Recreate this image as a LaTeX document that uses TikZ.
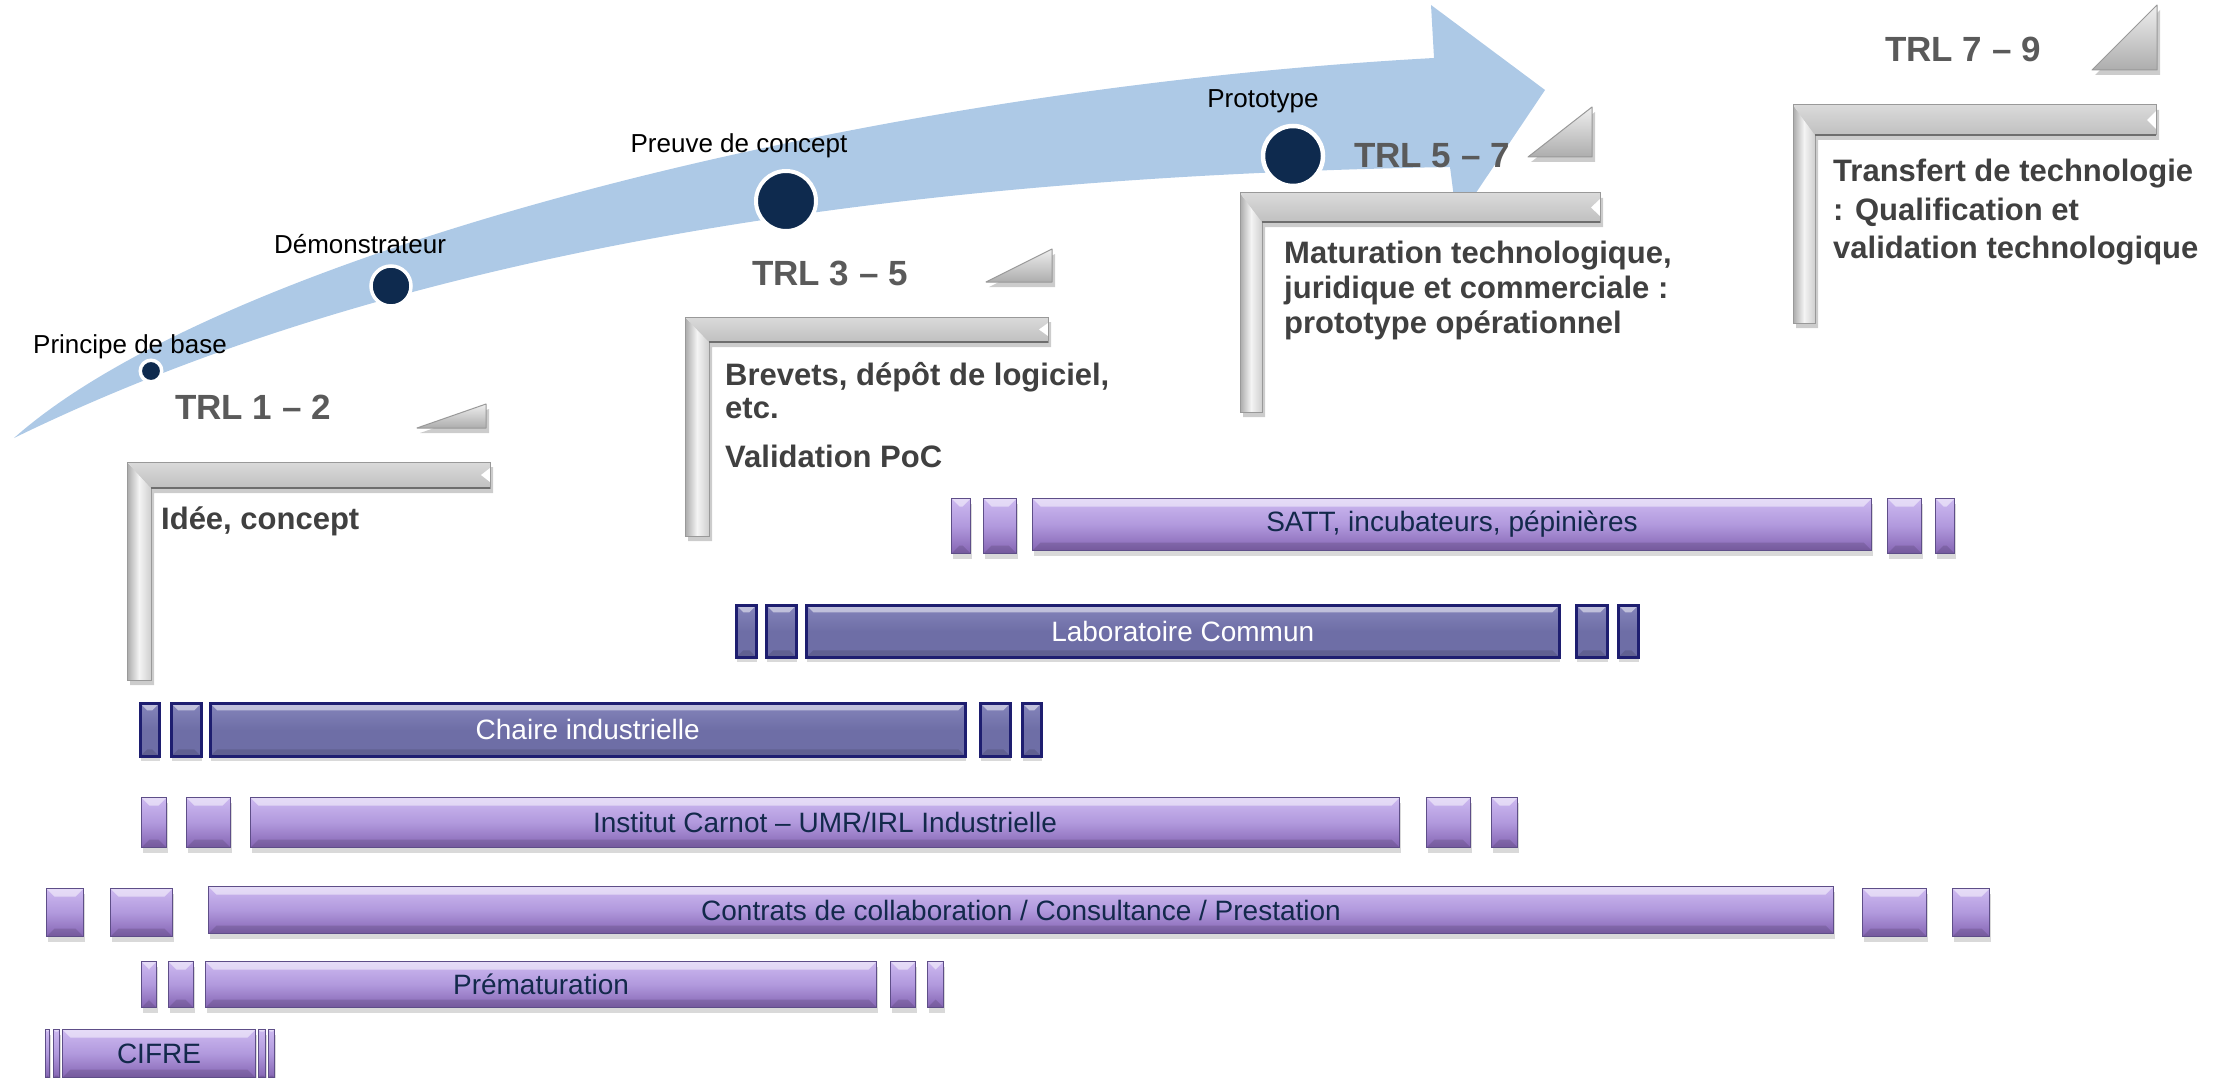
\documentclass[tikz,border=0pt]{standalone}
\usepackage{fontspec}
\setmainfont{Liberation Sans}
\usetikzlibrary{shadows,calc}
\definecolor{arrowblue}{HTML}{ADC9E6}
\definecolor{navy}{HTML}{0E2A4E}
\definecolor{trlgray}{HTML}{5A5A5A}
\definecolor{txtgray}{HTML}{404040}
\definecolor{lavtop}{HTML}{CDB9F0}
\definecolor{lavmid}{HTML}{B199DD}
\definecolor{lavbot}{HTML}{8565B3}
\definecolor{lavline}{HTML}{5E4E88}
\definecolor{slate}{HTML}{6E6EA6}
\definecolor{slatetop}{HTML}{8585BB}
\definecolor{slateline}{HTML}{1E1E70}
\definecolor{bartxt}{HTML}{13294B}
\definecolor{brL}{HTML}{AAAAAA}
\definecolor{brM}{HTML}{F4F4F4}
\definecolor{brR}{HTML}{CFCFCF}
\definecolor{brT}{HTML}{DADADA}
\definecolor{brB}{HTML}{C0C0C0}
\definecolor{brO}{HTML}{999999}
\definecolor{brD}{HTML}{6E6E6E}
\definecolor{triT}{HTML}{EEEEEE}
\definecolor{triB}{HTML}{ADADAD}

\tikzset{
  bevel/.style={path picture={
    \fill[white,opacity=.5] (path picture bounding box.north west) -- (path picture bounding box.north east)
      -- ([xshift=-#1,yshift=-#1]path picture bounding box.north east)
      -- ([xshift=#1,yshift=-#1]path picture bounding box.north west) -- cycle;
    \fill[black,opacity=.12] (path picture bounding box.south west) -- (path picture bounding box.south east)
      -- ([xshift=-#1,yshift=#1]path picture bounding box.south east)
      -- ([xshift=#1,yshift=#1]path picture bounding box.south west) -- cycle;}},
  lbar/.style={draw=lavline, line width=1pt, top color=lavtop, bottom color=lavbot, middle color=lavmid,
    inner sep=0pt, anchor=north west, text=bartxt, font=\fontsize{28}{33}\selectfont,
    drop shadow={shadow xshift=1pt, shadow yshift=-5pt, opacity=.3}, bevel=8pt},
  dbar/.style={draw=slateline, line width=2.5pt, top color=slatetop, bottom color=slate, middle color=slate,
    inner sep=0pt, anchor=north west, text=white, font=\fontsize{28}{33}\selectfont,
    drop shadow={shadow xshift=1pt, shadow yshift=-5pt, opacity=.3}, bevel=7pt},
  dot/.style={circle, fill=navy, draw=white, inner sep=0pt},
  lbl/.style={anchor=base, inner sep=0pt, font=\fontsize{26}{31}\selectfont, text=black},
  trl/.style={anchor=base west, inner sep=0pt, font=\fontsize{35}{42}\selectfont\bfseries, text=trlgray},
  btxt/.style={anchor=base west, inner sep=0pt, font=\fontsize{31}{37}\selectfont\bfseries, text=txtgray},
}

\newcommand\seg[7]{\node[#1, minimum width={#4pt-#3pt}, minimum height={#6pt-#5pt}] (#2) at (#3,#5) {#7};}

\newcommand\trlbracket[6]{%
  \fill[black,opacity=.2,shift={(3,5)}] (#1,#2) -- (#3,#2) -- (#3,#4) -- (#5,#4) -- (#5,#6) -- (#1,#6) -- cycle;
  \shade[left color=brL, right color=brR, middle color=brM] (#1,#2) -- (#5,#4) -- (#5,#6) -- (#1,#6) -- cycle;
  \shade[top color=brT, bottom color=brB] (#1,#2) -- (#3,#2) -- (#3,#4) -- (#5,#4) -- cycle;
  \fill[white] (#3,{#2+6}) -- ({#3-9},{(#2+#4)/2}) -- (#3,{#4-6}) -- cycle;
  \draw[brO, line width=1pt] (#1,#2) -- (#3,#2) -- (#3,#4) -- (#5,#4) -- (#5,#6) -- (#1,#6) -- cycle;
  \draw[brD, line width=1.5pt] (#5,#4) -- (#3,#4);
}

\newcommand\trltri[4]{%
  \fill[black,opacity=.2,shift={(3,5)}] (#1,#2) -- (#3,#4) -- (#3,#2) -- cycle;
  \shade[top color=triT, bottom color=triB] (#1,#2) -- (#3,#4) -- (#3,#2) -- cycle;
  \draw[brO, line width=1pt, line join=round] (#1,#2) -- (#3,#4) -- (#3,#2) -- cycle;
}

\begin{document}
\begin{tikzpicture}[x=1pt,y=-1pt]
\useasboundingbox (0,0) rectangle (2237,1078);

% curved arrow
\fill[arrowblue] (14,438) .. controls (220,255) and (850,90) .. (1434,58)
  -- (1431,5) -- (1545,90) -- (1457,221) -- (1450,167)
  .. controls (1000,175) and (450,225) .. (14,438) -- cycle;

% brackets and wedges
\trlbracket{127}{462}{490}{488}{151}{680}
\trlbracket{685}{317}{1048}{342}{709}{536}
\trlbracket{1240}{193}{1600}{222}{1262}{412}
\trlbracket{1793}{105}{2156}{135}{1815}{323}
\trltri{417}{428}{486}{404}
\trltri{986}{282}{1052}{249}
\trltri{1528}{157}{1592}{107}
\trltri{2092}{70}{2157}{5}

% milestones
\node[dot, minimum size=21.5pt, line width=3.5pt] (c1) at (151,371) {};
\node[dot, minimum size=40pt, line width=3.5pt] (c2) at (391,286) {};
\node[dot, minimum size=60pt, line width=4pt] (c3) at (786,201) {};
\node[dot, minimum size=60pt, line width=4.5pt] (c4) at (1293,156) {};
\node[lbl] (l1) at (130,353) {Principe de base};
\node[lbl] (l2) at (360,253) {Démonstrateur};
\node[lbl] (l3) at (739,153) {Preuve de concept};
\node[lbl] (l4) at (1263,108) {Prototype};

% TRL labels
\node[trl] (trl12) at (175,419) {TRL 1 – 2};
\node[trl] (trl35) at (752,285) {TRL 3 – 5};
\node[trl] (trl57) at (1354,168) {TRL 5 – 7};
\node[trl] (trl79) at (1885,62) {TRL 7 – 9};

% bracket texts
\node[btxt] (i1) at (161,529) {Idée, concept};
\node[btxt] (b1) at (725,385) {Brevets, dépôt de logiciel,};
\node[btxt] (b2) at (725,418) {etc.};
\node[btxt] (b3) at (725,467) {Validation PoC};
\node[btxt] (m1) at (1284,263) {Maturation technologique,};
\node[btxt] (m2) at (1284,298) {juridique et commerciale :};
\node[btxt] (m3) at (1284,333) {prototype opérationnel};
\node[btxt] (t1) at (1833,182) {Transfert de technologie};
\node[btxt] (t2) at (1833,220) {: Qualification et};
\node[btxt] (t3) at (1833,258) {validation technologique};

% SATT
\seg{lbar}{satt1}{951}{970}{498}{553}{}
\seg{lbar}{satt2}{983}{1016}{498}{553}{}
\seg{lbar}{satt}{1032}{1871}{498}{550}{SATT, incubateurs, pépinières}
\seg{lbar}{satt3}{1887}{1921}{498}{553}{}
\seg{lbar}{satt4}{1935}{1954}{498}{553}{}
% Laboratoire commun
\seg{dbar}{labo1}{735}{755}{604}{656}{}
\seg{dbar}{labo2}{765}{795}{604}{656}{}
\seg{dbar}{labo}{805}{1558}{604}{656}{Laboratoire Commun}
\seg{dbar}{labo3}{1575}{1606}{604}{656}{}
\seg{dbar}{labo4}{1617}{1637}{604}{656}{}
% Chaire
\seg{dbar}{ch1}{139}{158}{702}{755}{}
\seg{dbar}{ch2}{170}{200}{702}{755}{}
\seg{dbar}{ch}{209}{964}{702}{755}{Chaire industrielle}
\seg{dbar}{ch3}{979}{1009}{702}{755}{}
\seg{dbar}{ch4}{1021}{1040}{702}{755}{}
% Institut Carnot
\seg{lbar}{ic1}{141}{166}{797}{847}{}
\seg{lbar}{ic2}{186}{230}{797}{847}{}
\seg{lbar}{ic}{250}{1399}{797}{847}{Institut Carnot – UMR/IRL Industrielle}
\seg{lbar}{ic3}{1426}{1470}{797}{847}{}
\seg{lbar}{ic4}{1491}{1517}{797}{847}{}
% Contrats
\seg{lbar}{co1}{46}{83}{888}{936}{}
\seg{lbar}{co2}{110}{172}{888}{936}{}
\seg{lbar}{co}{208}{1833}{886}{933}{Contrats de collaboration / Consultance / Prestation}
\seg{lbar}{co3}{1862}{1926}{888}{936}{}
\seg{lbar}{co4}{1952}{1989}{888}{936}{}
% Prematuration
\seg{lbar}{pm1}{141}{156}{961}{1007}{}
\seg{lbar}{pm2}{168}{193}{961}{1007}{}
\seg{lbar}{pm}{205}{876}{961}{1007}{Prématuration}
\seg{lbar}{pm3}{890}{915}{961}{1007}{}
\seg{lbar}{pm4}{927}{943}{961}{1007}{}
% CIFRE
\seg{lbar,bevel=2pt}{cf1}{45}{49}{1029}{1077}{}
\seg{lbar,bevel=2pt}{cf2}{53}{59}{1029}{1077}{}
\seg{lbar}{cf}{62}{255}{1029}{1077}{CIFRE}
\seg{lbar,bevel=2pt}{cf3}{258}{265}{1029}{1077}{}
\seg{lbar,bevel=2pt}{cf4}{268}{274}{1029}{1077}{}
\end{tikzpicture}
\end{document}
